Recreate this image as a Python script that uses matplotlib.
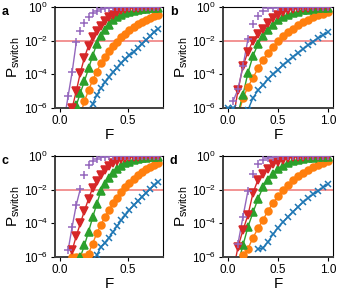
import numpy as np
import matplotlib
matplotlib.use("Agg")
import matplotlib.pyplot as plt
from matplotlib.ticker import FixedLocator, LogFormatterMathtext, NullLocator

plt.rcParams['font.family'] = ['Liberation Sans', 'DejaVu Sans']
plt.rcParams['mathtext.default'] = 'regular'

n = np.nan

# force grids (panels a, c use F up to 0.72, panels b, d up to 1.0)
F_short = [0.00, 0.03, 0.06, 0.09, 0.12, 0.15, 0.18, 0.21, 0.24, 0.27, 0.30, 0.33, 0.36,
           0.39, 0.42, 0.45, 0.48, 0.51, 0.54, 0.57, 0.60, 0.63, 0.66, 0.69, 0.72]
F_long = [0.00, 0.05, 0.10, 0.15, 0.20, 0.25, 0.30, 0.35, 0.40, 0.45, 0.50,
          0.55, 0.60, 0.65, 0.70, 0.75, 0.80, 0.85, 0.90, 0.95, 1.00]

# log10 of P_switch
a_blue = [n, n, n, n, n, n, n, -6.3, -5.75, -5.25, -4.82, -4.48, -4.16, -3.88, -3.6, -3.34,
          -3.1, -2.88, -2.66, -2.42, -2.18, -1.97, -1.75, -1.5, -1.28]
a_orange = [n, n, n, n, n, -6.4, -5.6, -4.95, -4.35, -3.85, -3.35, -2.95, -2.6, -2.3, -2.05,
            -1.8, -1.58, -1.38, -1.2, -1.03, -0.9, -0.77, -0.65, -0.54, -0.45]
a_green = [n, n, n, -6.9, -5.85, -5.1, -4.4, -3.65, -2.9, -2.2, -1.7, -1.35, -1.05, -0.8,
           -0.62, -0.48, -0.37, -0.28, -0.21, -0.16, -0.12, -0.09, -0.07, -0.05, -0.04]
a_red = [n, n, -7.0, -6.0, -5.0, -3.9, -3.0, -2.3, -1.78, -1.4, -1.1, -0.85, -0.62, -0.45,
         -0.3, -0.2, -0.13, -0.08, -0.05, -0.03, -0.02, -0.01, -0.01, 0, 0]
a_purple = [n, -6.8, -5.3, -3.85, -2.1, -1.4, -0.95, -0.6, -0.36, -0.21, -0.12, -0.07, -0.04,
            -0.02, -0.01, 0, 0, 0, 0, 0, 0, 0, 0, 0, 0]

b_blue = [-6.0, -6.0, n, n, -6.1, -5.4, -4.95, -4.62, -4.3, -4.0, -3.72, -3.45, -3.2, -2.95,
          -2.72, -2.5, -2.27, -2.05, -1.85, -1.67, -1.5]
b_orange = [n, n, -6.5, -5.4, -4.75, -4.2, -3.65, -3.15, -2.72, -2.35, -2.03, -1.75, -1.5,
            -1.28, -1.08, -0.9, -0.75, -0.62, -0.5, -0.4, -0.32]
b_green = [n, n, -6.3, -5.2, -3.9, -2.9, -2.2, -1.7, -1.35, -1.05, -0.8, -0.6, -0.46, -0.35,
           -0.27, -0.2, -0.15, -0.11, -0.08, -0.06, -0.05]
b_red = [n, -6.7, -4.95, -3.5, -2.65, -2.0, -1.6, -1.28, -0.95, -0.66, -0.45, -0.3, -0.2,
         -0.13, -0.08, -0.05, -0.03, -0.02, -0.01, -0.01, 0]
b_purple = [n, -5.6, -4.9, -3.5, -1.9, -1.0, -0.53, -0.22, -0.08, -0.03, -0.01, 0, 0, 0, 0,
            0, 0, 0, 0, 0, 0]

c_blue = [n, n, n, n, n, n, n, n, n, -5.9, -5.4, -5.15, -4.85, -4.5, -4.15, -3.82, -3.5,
          -3.2, -2.93, -2.68, -2.43, -2.2, -1.97, -1.75, -1.52]
c_orange = [n, n, n, -6.0, -6.0, -6.0, -6.0, -5.8, -5.2, -4.6, -4.1, -3.62, -3.2, -2.82,
            -2.48, -2.15, -1.85, -1.58, -1.35, -1.15, -0.97, -0.8, -0.65, -0.52, -0.4]
c_green = [n, n, n, n, n, -6.0, -5.3, -4.5, -3.65, -2.85, -2.1, -1.65, -1.3, -1.0, -0.77,
           -0.58, -0.44, -0.33, -0.25, -0.19, -0.14, -0.1, -0.08, -0.06, -0.05]
c_red = [n, n, -6.8, -5.6, -4.75, -4.0, -3.25, -2.55, -1.9, -1.5, -1.15, -0.85, -0.6, -0.42,
         -0.28, -0.18, -0.11, -0.07, -0.04, -0.03, -0.02, -0.01, -0.01, 0, 0]
c_purple = [n, n, -5.6, -4.2, -2.9, -1.95, -1.1, -0.55, -0.3, -0.15, -0.08, -0.04, -0.02,
            -0.01, 0, 0, 0, 0, 0, 0, 0, 0, 0, 0, 0]

d_blue = [n, n, n, n, n, n, -5.55, -5.45, -5.1, -4.65, -4.25, -3.92, -3.6, -3.3, -3.02,
          -2.75, -2.5, -2.28, -2.08, -1.87, -1.67]
d_orange = [n, n, n, -5.9, -5.5, -4.85, -4.3, -3.8, -3.25, -2.8, -2.38, -2.02, -1.7, -1.43,
            -1.2, -1.0, -0.82, -0.66, -0.52, -0.4, -0.3]
d_green = [n, n, -6.4, -5.3, -4.2, -3.35, -2.55, -1.85, -1.4, -1.05, -0.78, -0.57, -0.43,
           -0.32, -0.24, -0.18, -0.14, -0.11, -0.08, -0.06, -0.05]
d_red = [n, -6.9, -5.4, -4.4, -3.5, -2.2, -1.4, -1.05, -0.75, -0.5, -0.33, -0.21, -0.13,
         -0.08, -0.05, -0.03, -0.02, -0.01, -0.01, 0, 0]
d_purple = [n, n, -5.2, -3.6, -2.05, -1.05, -0.5, -0.22, -0.09, -0.04, -0.02, -0.01, 0, 0,
            0, 0, 0, 0, 0, 0, 0]

threshold = 1e-2

panels = {
    'a': (F_short, [a_blue, a_orange, a_green, a_red, a_purple]),
    'b': (F_long, [b_blue, b_orange, b_green, b_red, b_purple]),
    'c': (F_short, [c_blue, c_orange, c_green, c_red, c_purple]),
    'd': (F_long, [d_blue, d_orange, d_green, d_red, d_purple]),
}

colors = ['#1f77b4', '#ff7f0e', '#2ca02c', '#d62728', '#9467bd']
markers = ['x', 'o', '^', 'v', '+']
msizes = [4.4, 5.0, 5.2, 5.2, 5.2]
# theory lines are only drawn up to this log10(P)
line_top = [0.5, 0.5, -1.0, -1.2, -1.85]

positions = {
    'a': [55 / 340, 1 - 108 / 300, 108 / 340, 101 / 300],
    'b': [223 / 340, 1 - 108 / 300, 110 / 340, 101 / 300],
    'c': [55 / 340, 1 - 257 / 300, 108 / 340, 101 / 300],
    'd': [223 / 340, 1 - 257 / 300, 110 / 340, 101 / 300],
}
letter_pos = {'a': (2, 12), 'b': (170, 12), 'c': (2, 161), 'd': (170, 161)}

fig = plt.figure(figsize=(3.4, 3.0), dpi=100)

for key, (F, series) in panels.items():
    ax = fig.add_axes(positions[key])
    F = np.array(F)
    for logp, c, m, ms, top in zip(series, colors, markers, msizes, line_top):
        logp = np.array(logp, dtype=float)
        p = 10.0 ** logp
        pl = np.where(logp <= top, p, np.nan)
        ax.plot(F, pl, '-', color=c, lw=1.0, zorder=2)
        ax.plot(F, p, linestyle='none', marker=m, color=c, ms=ms,
                mew=1.1, zorder=3)
    ax.axhline(threshold, color='#f08080', lw=1.2, zorder=1)
    ax.set_yscale('log')
    ax.set_ylim(1e-6, 1e0)
    ax.set_xlim(-0.05 * F[-1], 1.05 * F[-1])
    ax.yaxis.set_major_locator(FixedLocator([1e-6, 1e-4, 1e-2, 1e0]))
    ax.yaxis.set_major_formatter(LogFormatterMathtext())
    ax.yaxis.set_minor_locator(NullLocator())
    if F[-1] > 0.8:
        ax.set_xticks([0.0, 0.5, 1.0])
    else:
        ax.set_xticks([0.0, 0.5])
    ax.set_xticklabels(['%.1f' % t for t in ax.get_xticks()])
    ax.tick_params(labelsize=8.5, length=3, width=0.8, pad=2)
    for side in ['left', 'bottom']:
        ax.spines[side].set_linewidth(1.4)
        ax.spines[side].set_color('0.25')
    for side in ['top', 'right']:
        ax.spines[side].set_linewidth(0.8)
    ax.set_xlabel('F', fontsize=11, labelpad=1)
    ax.set_ylabel('P$_{switch}$', fontsize=11, labelpad=1)
    lx, ly = letter_pos[key]
    fig.text(lx / 340, 1 - ly / 300, key, fontsize=9, fontweight='bold',
             ha='left', va='center')

fig.savefig('out.png', dpi=100)
